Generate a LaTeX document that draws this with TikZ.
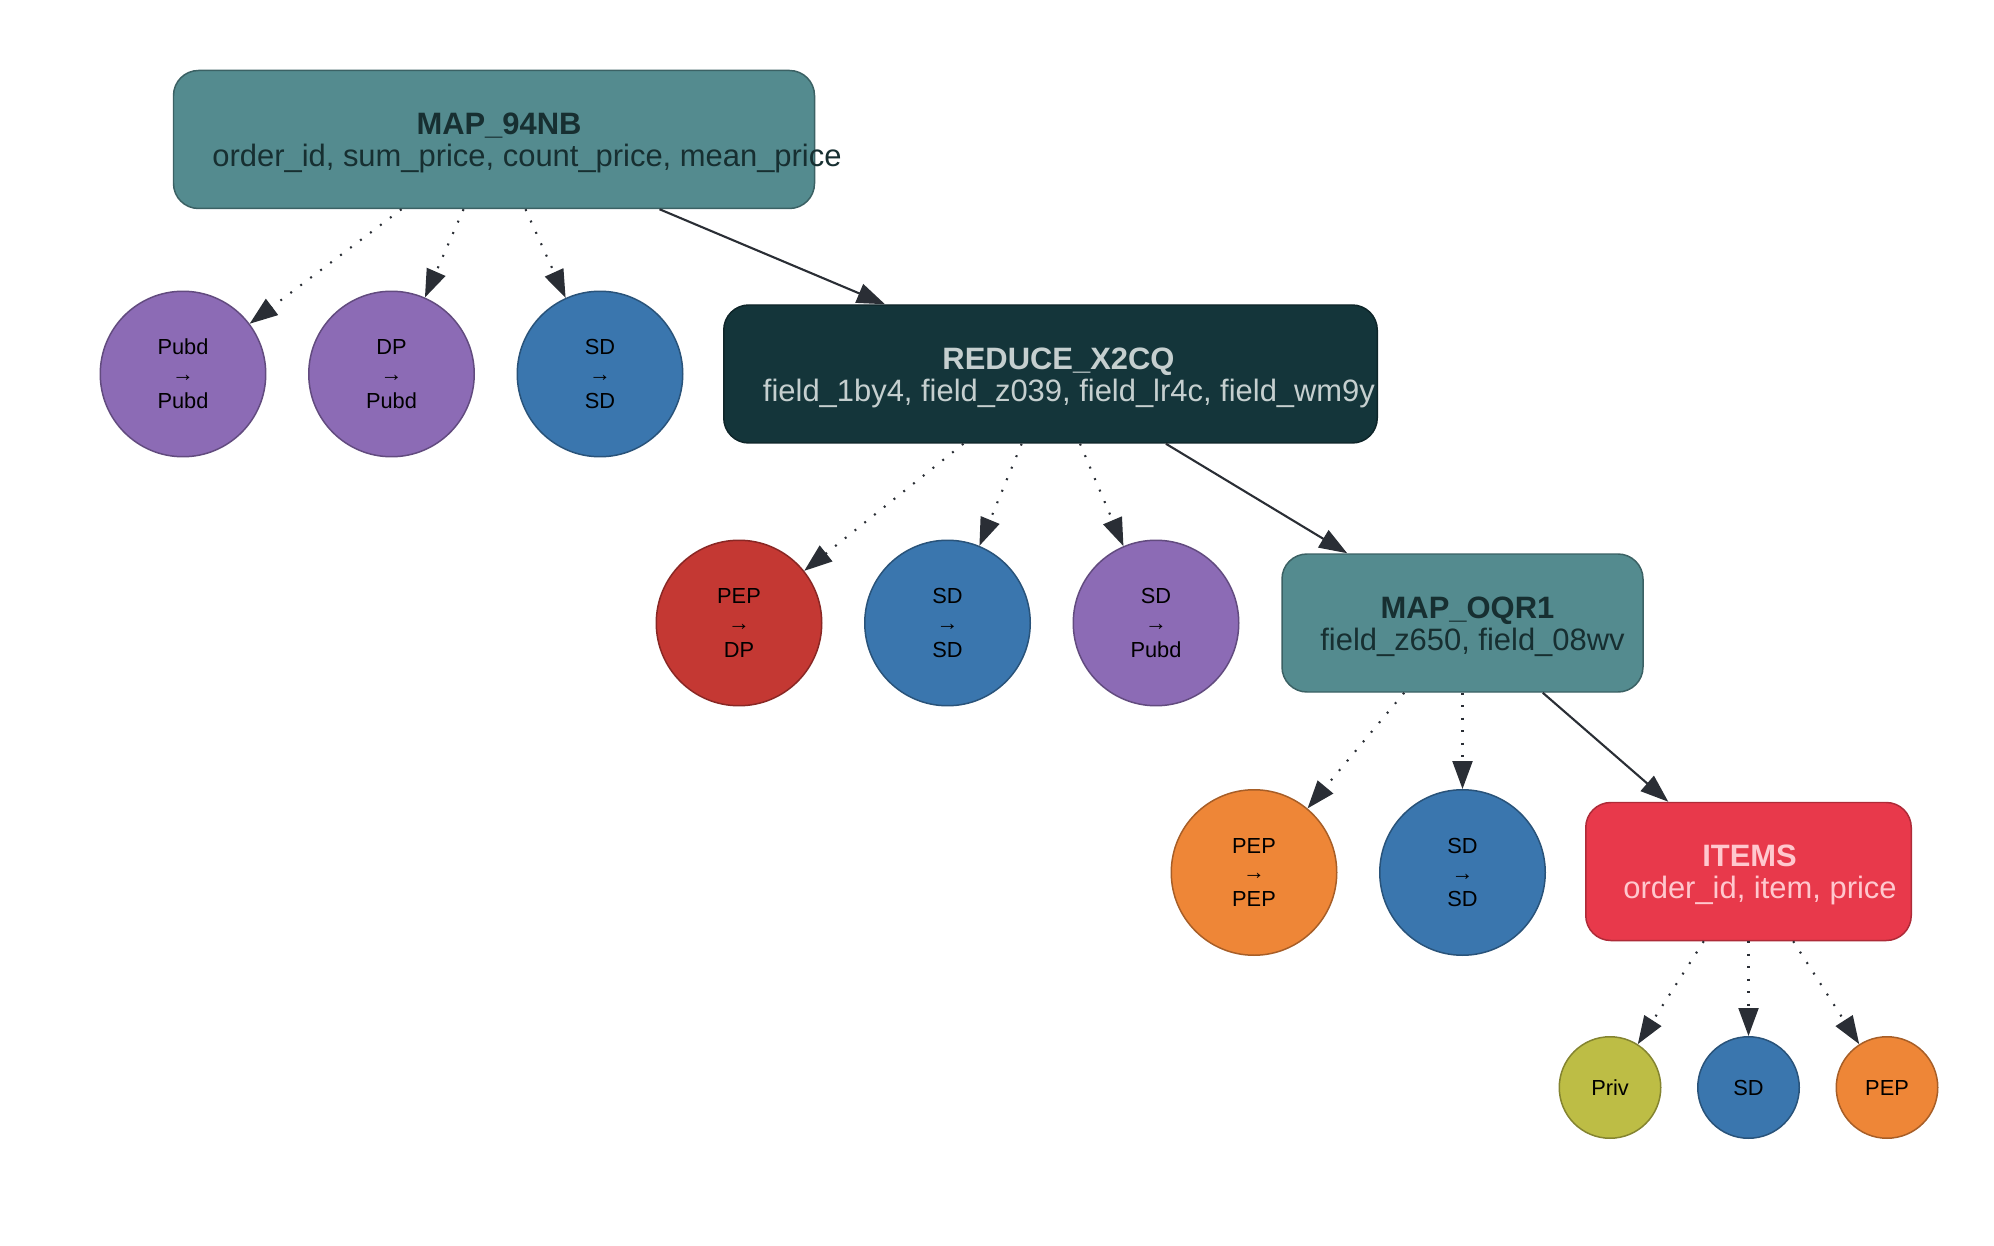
\documentclass[tikz,border=0pt]{standalone}
\usepackage{fontspec}
\setmainfont{Liberation Sans}
\usetikzlibrary{arrows.meta}

\definecolor{mapteal}{HTML}{548B8F}
\definecolor{maptext}{HTML}{172F31}
\definecolor{reducefill}{HTML}{14353A}
\definecolor{reducetext}{HTML}{C5CFCF}
\definecolor{itemsfill}{HTML}{E8394B}
\definecolor{itemstext}{HTML}{FFC8CE}
\definecolor{colpubd}{HTML}{8C6BB5}
\definecolor{colsd}{HTML}{3A76AE}
\definecolor{coldp}{HTML}{C43833}
\definecolor{colpep}{HTML}{EE8637}
\definecolor{colpriv}{HTML}{BDBD45}
\definecolor{edgecol}{HTML}{2A2E35}

% two centred lines that do not widen the box
\newcommand{\opl}[4]{\makebox[0pt]{\hspace*{#3}\rule{0pt}{16.4pt}\textbf{#1}}\\\makebox[0pt]{\hspace*{#4}#2}}

\begin{document}
\begin{tikzpicture}[
    opbox/.style={draw, rounded corners=0.5cm, minimum height=\boxheight, inner sep=0pt,
        line width=\linethic, align=center, font={\fontsize{17.6}{18.1}\selectfont}},
    circ/.style={draw, circle, minimum size=\circlesize, inner sep=0pt,
        line width=\linethic, align=center, font={\fontsize{12.4}{15.3}\selectfont}},
    smallcirc/.style={circ, minimum size=\smallsize},
    solidedge/.style={-{Triangle[length=0.56cm, width=0.4cm]}, edgecol, line width=\arrowthic},
    dotedge/.style={solidedge, dash pattern=on 1.1pt off 6pt}
]

    %--------------------%
    % Parameters
    %--------------------%
    \def\circlesize{3.31cm}
    \def\smallsize{2.03cm}
    \def\boxheight{2.76cm}
    \def\linethic{0.85pt}
    \def\arrowthic{1.2pt}
    \def\csep{4.17}
    \def\ssep{2.77}

    \useasboundingbox (0,0) rectangle (39.88,-24.92);

    %--------------------%
    % Operator boxes
    %--------------------%
    \node[opbox, fill=mapteal, draw=mapteal!70!black, text=maptext, minimum width=12.82cm]
        (map94) at (9.88,-2.79) {\opl{MAP\_94NB}{order\_id, sum\_price, count\_price, mean\_price}{0.2cm}{1.32cm}};
    \node[opbox, fill=reducefill, draw=reducefill!70!black, text=reducetext, minimum width=13.07cm]
        (reduce) at (21.01,-7.48) {\opl{REDUCE\_X2CQ}{field\_1by4, field\_z039, field\_lr4c, field\_wm9y}{0.32cm}{0.74cm}};
    \node[opbox, fill=mapteal, draw=mapteal!70!black, text=maptext, minimum width=7.22cm]
        (mapoqr) at (29.25,-12.46) {\opl{MAP\_OQR1}{field\_z650, field\_08wv}{0.2cm}{0.4cm}};
    \node[opbox, fill=itemsfill, draw=itemsfill!75!black, text=itemstext, minimum width=6.51cm]
        (items) at (34.97,-17.43) {\opl{ITEMS}{order\_id, item, price}{0.04cm}{0.46cm}};

    %--------------------%
    % Level 1
    %--------------------%
    \node[circ, fill=colpubd, draw=colpubd!70!black] (l1a) at (3.66,-7.48) {Pubd\\→\\Pubd};
    \node[circ, fill=colpubd, draw=colpubd!70!black] (l1b) at (3.66+\csep,-7.48) {DP\\→\\Pubd};
    \node[circ, fill=colsd, draw=colsd!70!black] (l1c) at (3.66+2*\csep,-7.48) {SD\\→\\SD};

    %--------------------%
    % Level 2
    %--------------------%
    \node[circ, fill=coldp, draw=coldp!70!black] (l2a) at (14.78,-12.46) {PEP\\→\\DP};
    \node[circ, fill=colsd, draw=colsd!70!black] (l2b) at (14.78+\csep,-12.46) {SD\\→\\SD};
    \node[circ, fill=colpubd, draw=colpubd!70!black] (l2c) at (14.78+2*\csep,-12.46) {SD\\→\\Pubd};

    %--------------------%
    % Level 3
    %--------------------%
    \node[circ, fill=colpep, draw=colpep!70!black] (l3a) at (25.08,-17.45) {PEP\\→\\PEP};
    \node[circ, fill=colsd, draw=colsd!70!black] (l3b) at (25.08+\csep,-17.45) {SD\\→\\SD};

    %--------------------%
    % Level 4
    %--------------------%
    \node[smallcirc, fill=colpriv, draw=colpriv!70!black] (l4a) at (32.20,-21.75) {Priv};
    \node[smallcirc, fill=colsd, draw=colsd!70!black] (l4b) at (32.20+\ssep,-21.75) {SD};
    \node[smallcirc, fill=colpep, draw=colpep!70!black] (l4c) at (32.20+2*\ssep,-21.75) {PEP};

    %--------------------%
    % Connections
    %--------------------%
    \draw[solidedge] (map94) -- (reduce);
    \draw[solidedge] (reduce) -- (mapoqr);
    \draw[solidedge] (mapoqr) -- (items);

    \foreach \c in {l1a,l1b,l1c} \draw[dotedge] (map94) -- (\c);
    \foreach \c in {l2a,l2b,l2c} \draw[dotedge] (reduce) -- (\c);
    \foreach \c in {l3a,l3b} \draw[dotedge] (mapoqr) -- (\c);
    \foreach \c in {l4a,l4b,l4c} \draw[dotedge] (items) -- (\c);
\end{tikzpicture}
\end{document}
